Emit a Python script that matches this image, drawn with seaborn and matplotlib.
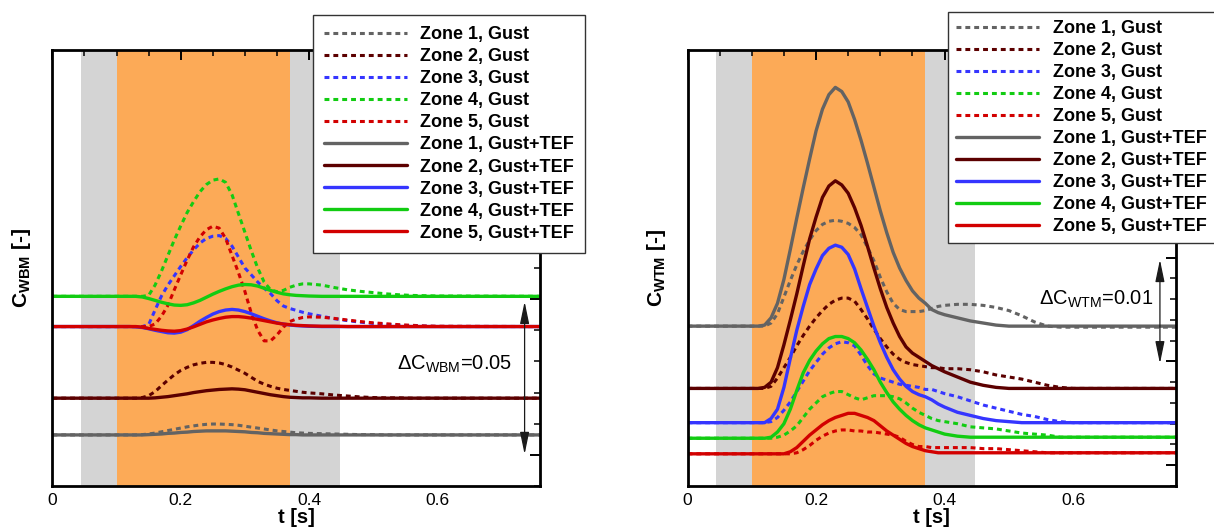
import numpy as np
import matplotlib
matplotlib.use("Agg")
import matplotlib.pyplot as plt
from matplotlib.ticker import MultipleLocator, FuncFormatter
import seaborn as sns

# ---------------- data (coefficient values in units of 1e-3) ----------------
T = [0.00,
     0.10, 0.11, 0.12, 0.13, 0.14, 0.15, 0.16, 0.17, 0.18, 0.19,
     0.20, 0.21, 0.22, 0.23, 0.24, 0.25, 0.26, 0.27, 0.28, 0.29,
     0.30, 0.31, 0.32, 0.33, 0.34, 0.35, 0.36, 0.37, 0.38, 0.39,
     0.40, 0.42, 0.44, 0.46, 0.48, 0.50, 0.52, 0.54, 0.56, 0.58, 0.60,
     0.76]

# Left panel: C_WBM
WBM_Z1_GUST = [6.4,
    6.4, 6.4, 6.4, 6.4, 6.5, 6.7, 7.0, 7.4, 7.8, 8.2,
    8.6, 9.0, 9.3, 9.6, 9.8, 9.9, 9.9, 9.8, 9.7, 9.5,
    9.2, 8.9, 8.6, 8.3, 8.0, 7.7, 7.5, 7.3, 7.1, 7.0,
    6.9, 6.8, 6.7, 6.6, 6.5, 6.5, 6.4, 6.4, 6.4, 6.4, 6.4,
    6.4]
WBM_Z2_GUST = [18.2,
    18.2, 18.2, 18.2, 18.2, 18.4, 19.0, 20.3, 22.2, 24.0, 25.7,
    27.1, 28.1, 28.9, 29.4, 29.7, 29.7, 29.5, 29.0, 28.2, 27.2,
    26.2, 24.9, 23.6, 22.7, 22.0, 21.4, 21.0, 20.7, 20.4, 20.1,
    19.9, 19.6, 19.2, 18.9, 18.6, 18.4, 18.3, 18.3, 18.2, 18.2, 18.2,
    18.2]
WBM_Z3_GUST = [41.2,
    41.2, 41.2, 41.2, 41.2, 41.2, 41.8, 46.5, 51.0, 54.5, 57.5,
    60.5, 63.3, 65.8, 68.0, 69.5, 70.2, 70.4, 69.5, 67.0, 63.5,
    60.0, 57.8, 55.5, 53.5, 51.8, 49.5, 47.8, 47.0, 46.4, 45.8,
    45.3, 44.5, 43.7, 43.1, 42.6, 42.2, 41.9, 41.6, 41.4, 41.3, 41.2,
    41.2]
WBM_Z4_GUST = [50.9,
    50.9, 50.9, 50.9, 50.9, 50.9, 51.2, 54.5, 59.0, 64.0, 69.0,
    73.5, 77.8, 81.3, 84.5, 86.8, 88.2, 88.6, 87.5, 83.5, 77.5,
    71.5, 65.5, 60.0, 55.5, 53.0, 52.4, 52.8, 53.8, 54.5, 54.9,
    54.9, 54.5, 53.7, 53.0, 52.5, 52.1, 51.7, 51.4, 51.2, 51.1, 51.0,
    50.9]
WBM_Z5_GUST = [41.2,
    41.2, 41.2, 41.2, 41.2, 41.2, 41.2, 42.0, 44.5, 48.0, 53.0,
    57.8, 62.5, 66.8, 70.0, 72.3, 73.4, 72.8, 69.5, 64.0, 58.5,
    52.5, 45.5, 40.0, 36.6, 36.6, 38.5, 41.0, 42.8, 43.6, 44.1,
    44.3, 44.2, 43.8, 43.3, 42.8, 42.4, 42.1, 41.8, 41.6, 41.4, 41.3,
    41.2]
WBM_Z1_TEF = [6.4,
    6.4, 6.4, 6.4, 6.4, 6.4, 6.5, 6.6, 6.7, 6.9, 7.0,
    7.2, 7.3, 7.5, 7.6, 7.7, 7.7, 7.7, 7.7, 7.6, 7.5,
    7.4, 7.2, 7.1, 6.9, 6.8, 6.7, 6.6, 6.5, 6.5, 6.4,
    6.4, 6.4, 6.4, 6.4, 6.4, 6.4, 6.4, 6.4, 6.4, 6.4, 6.4,
    6.4]
WBM_Z2_TEF = [18.2,
    18.2, 18.2, 18.2, 18.2, 18.2, 18.2, 18.3, 18.5, 18.7, 19.0,
    19.3, 19.6, 20.0, 20.3, 20.6, 20.8, 21.0, 21.1, 21.2, 21.1,
    20.9, 20.5, 20.1, 19.7, 19.3, 19.0, 18.7, 18.5, 18.4, 18.3,
    18.3, 18.2, 18.2, 18.2, 18.2, 18.2, 18.2, 18.2, 18.2, 18.2, 18.2,
    18.2]
WBM_Z3_TEF = [41.2,
    41.2, 41.2, 41.2, 41.1, 40.9, 40.5, 40.0, 39.6, 39.2, 39.1,
    39.4, 40.2, 41.5, 42.9, 44.1, 45.2, 46.0, 46.5, 46.7, 46.5,
    46.0, 45.3, 44.5, 43.7, 43.0, 42.4, 42.0, 41.7, 41.5, 41.4,
    41.3, 41.2, 41.2, 41.2, 41.2, 41.2, 41.2, 41.2, 41.2, 41.2, 41.2,
    41.2]
WBM_Z4_TEF = [50.9,
    50.9, 50.9, 50.9, 50.9, 50.7, 50.2, 49.6, 49.0, 48.5, 48.1,
    48.0, 48.2, 48.8, 49.6, 50.6, 51.6, 52.5, 53.3, 54.0, 54.5,
    54.7, 54.6, 54.2, 53.5, 52.8, 52.2, 51.7, 51.4, 51.2, 51.1,
    51.0, 50.9, 50.9, 50.9, 50.9, 50.9, 50.9, 50.9, 50.9, 50.9, 50.9,
    50.9]
WBM_Z5_TEF = [41.2,
    41.2, 41.2, 41.2, 41.2, 41.0, 40.6, 40.3, 40.0, 39.8, 39.7,
    39.9, 40.4, 41.1, 41.9, 42.7, 43.3, 43.8, 44.2, 44.4, 44.4,
    44.2, 43.9, 43.5, 43.1, 42.7, 42.3, 42.0, 41.8, 41.6, 41.5,
    41.4, 41.3, 41.3, 41.2, 41.2, 41.2, 41.2, 41.2, 41.2, 41.2, 41.2,
    41.2]

# Right panel: C_WTM
WTM_Z1_GUST = [13.4,
    13.4, 13.4, 13.4, 13.7, 14.6, 16.2, 17.8, 19.3, 20.6, 21.7,
    22.6, 23.2, 23.5, 23.6, 23.5, 23.3, 22.9, 22.2, 21.0, 19.7,
    18.1, 16.7, 15.6, 15.0, 14.8, 14.8, 14.8, 14.9, 15.1, 15.3,
    15.4, 15.5, 15.5, 15.4, 15.2, 14.9, 14.4, 13.8, 13.4, 13.3, 13.3,
    13.3]
WTM_Z2_GUST = [7.4,
    7.4, 7.4, 7.4, 7.6, 8.4, 9.4, 10.4, 11.5, 12.5, 13.4,
    14.2, 14.9, 15.5, 15.9, 16.1, 16.1, 15.8, 15.0, 14.1, 13.1,
    12.2, 11.4, 10.7, 10.2, 9.9, 9.7, 9.6, 9.5, 9.4, 9.4,
    9.3, 9.3, 9.2, 9.0, 8.7, 8.5, 8.3, 8.0, 7.7, 7.5, 7.4,
    7.4]
WTM_Z3_GUST = [4.1,
    4.1, 4.1, 4.1, 4.2, 4.6, 5.3, 6.1, 7.1, 8.1, 9.1,
    9.9, 10.7, 11.3, 11.7, 11.9, 11.8, 11.5, 10.6, 9.6, 8.8,
    8.4, 8.2, 8.0, 7.8, 7.7, 7.6, 7.5, 7.3, 7.3, 7.1,
    6.9, 6.6, 6.2, 5.8, 5.5, 5.2, 4.9, 4.7, 4.4, 4.2, 4.1,
    4.1]
WTM_Z4_GUST = [2.6,
    2.6, 2.6, 2.6, 2.6, 2.7, 2.9, 3.3, 3.8, 4.6, 5.4,
    6.0, 6.6, 6.9, 7.1, 7.1, 6.8, 6.5, 6.3, 6.5, 6.7,
    6.7, 6.7, 6.6, 6.4, 6.0, 5.5, 5.1, 4.8, 4.5, 4.3,
    4.2, 4.0, 3.7, 3.6, 3.5, 3.3, 3.1, 3.0, 2.9, 2.7, 2.7,
    2.7]
WTM_Z5_GUST = [1.1,
    1.1, 1.1, 1.1, 1.1, 1.1, 1.1, 1.1, 1.2, 1.5, 1.9,
    2.4, 2.8, 3.1, 3.3, 3.4, 3.4, 3.3, 3.3, 3.2, 3.2,
    3.1, 3.0, 2.9, 2.7, 2.3, 2.0, 1.8, 1.8, 1.7, 1.7,
    1.7, 1.7, 1.7, 1.6, 1.6, 1.5, 1.4, 1.3, 1.2, 1.2, 1.2,
    1.2]
WTM_Z1_TEF = [13.4,
    13.4, 13.4, 13.5, 14.2, 15.6, 17.9, 20.8, 23.8, 26.7, 29.5,
    32.2, 34.3, 35.7, 36.4, 36.0, 35.0, 33.3, 31.3, 29.1, 26.8,
    24.5, 22.4, 20.5, 19.0, 17.8, 16.8, 16.1, 15.6, 15.0, 14.7,
    14.5, 14.2, 13.9, 13.7, 13.5, 13.4, 13.4, 13.4, 13.4, 13.4, 13.4,
    13.4]
WTM_Z2_TEF = [7.4,
    7.4, 7.4, 7.5, 8.0, 9.4, 11.6, 14.0, 16.5, 19.2, 21.8,
    23.9, 25.8, 26.9, 27.4, 27.0, 26.2, 24.8, 23.1, 21.1, 19.0,
    17.0, 15.2, 13.7, 12.4, 11.4, 10.8, 10.4, 10.0, 9.6, 9.3,
    9.0, 8.5, 8.0, 7.7, 7.5, 7.4, 7.4, 7.4, 7.4, 7.4, 7.4,
    7.4]
WTM_Z3_TEF = [4.1,
    4.1, 4.1, 4.1, 4.5, 5.4, 7.5, 10.3, 13.0, 15.3, 17.4,
    18.9, 20.2, 20.9, 21.2, 21.0, 20.3, 18.9, 17.0, 15.2, 13.4,
    11.8, 10.4, 9.2, 8.3, 7.6, 7.1, 6.8, 6.6, 6.3, 5.9,
    5.6, 5.1, 4.8, 4.5, 4.3, 4.2, 4.1, 4.1, 4.1, 4.1, 4.1,
    4.1]
WTM_Z4_TEF = [2.6,
    2.6, 2.6, 2.6, 2.7, 3.2, 4.0, 5.4, 7.2, 8.9, 10.1,
    11.0, 11.7, 12.2, 12.4, 12.4, 12.2, 11.8, 11.1, 10.2, 9.2,
    8.0, 7.0, 6.1, 5.4, 4.8, 4.3, 3.9, 3.6, 3.4, 3.2,
    3.0, 2.8, 2.7, 2.7, 2.7, 2.7, 2.7, 2.7, 2.7, 2.7, 2.7,
    2.7]
WTM_Z5_TEF = [1.1,
    1.1, 1.1, 1.1, 1.1, 1.1, 1.1, 1.3, 1.7, 2.3, 2.9,
    3.4, 3.9, 4.3, 4.6, 4.8, 5.0, 5.0, 4.8, 4.6, 4.3,
    3.8, 3.3, 2.9, 2.5, 2.1, 1.8, 1.6, 1.4, 1.3, 1.2,
    1.2, 1.2, 1.2, 1.2, 1.2, 1.2, 1.2, 1.2, 1.2, 1.2, 1.2,
    1.2]

ZONES = ["Zone 1", "Zone 2", "Zone 3", "Zone 4", "Zone 5"]
CASES = ["Gust", "Gust+TEF"]
GREY_PHASES = [(0.044, 0.100), (0.370, 0.448)]
ORANGE_PHASE = (0.100, 0.370)

# ---------------- style ----------------
ZONE_COLORS = ["#636363", "#5c0000", "#3535ff", "#12cc12", "#d20000"]
DASH = (0, (1.6, 1.3))

sns.set_theme(style="white")
plt.rcParams.update({
    "axes.edgecolor": "black",
    "axes.linewidth": 2.0,
    "xtick.color": "black",
    "ytick.color": "black",
    "text.color": "black",
    "axes.labelcolor": "black",
    "mathtext.fontset": "custom",
    "mathtext.rm": "Liberation Sans",
    "mathtext.it": "Liberation Sans:italic",
    "mathtext.bf": "Liberation Sans:bold",
})
plt.rcParams["font.family"] = ["Liberation Sans", "DejaVu Sans"]

W, H = 1214, 527
fig = plt.figure(figsize=(W / 100, H / 100), dpi=100)
axL = fig.add_axes([52.4 / W, 1 - 486 / H, (540 - 52.4) / W, (486 - 50) / H])
axR = fig.add_axes([687.5 / W, 1 - 486 / H, (1176 - 687.5) / W, (486 - 50) / H])


def panel(ax, gust, tef, ylim, major, minor, sub, dval, arrow_x, arrow_y, text_xy,
          legend_xy, legend_pad):
    for a, b in GREY_PHASES:
        ax.axvspan(a, b, color="#d4d4d4", lw=0, zorder=0)
    ax.axvspan(*ORANGE_PHASE, color="#fcaa57", lw=0, zorder=0)

    for i, ys in enumerate(gust):
        sns.lineplot(x=T, y=np.asarray(ys) * 1e-3, ax=ax, color=ZONE_COLORS[i],
                     lw=2.2, linestyle=DASH, label=f"{ZONES[i]}, {CASES[0]}",
                     legend=False, zorder=3)
    for i, ys in enumerate(tef):
        sns.lineplot(x=T, y=np.asarray(ys) * 1e-3, ax=ax, color=ZONE_COLORS[i],
                     lw=2.4, linestyle="-", label=f"{ZONES[i]}, {CASES[1]}",
                     legend=False, zorder=3)

    ax.set_xlim(0, 0.76)
    ax.set_ylim(*ylim)
    ax.xaxis.set_major_locator(MultipleLocator(0.2))
    ax.xaxis.set_minor_locator(MultipleLocator(0.05))
    ax.xaxis.set_major_formatter(FuncFormatter(lambda v, p: "0" if abs(v) < 1e-9 else f"{v:.1f}"))
    ax.yaxis.set_major_locator(MultipleLocator(major))
    ax.yaxis.set_minor_locator(MultipleLocator(minor))
    ax.tick_params(which="both", direction="in", top=True, right=True,
                   labelleft=False, labelsize=12.5, pad=5)
    ax.tick_params(which="major", length=7.5, width=1.4)
    ax.tick_params(which="minor", length=4.5, width=1.1)
    for s in ax.spines.values():
        s.set_linewidth(2.0)
        s.set_zorder(5)

    ax.set_xlabel("t [s]", fontsize=14.5, fontweight="bold", labelpad=0)
    ax.set_ylabel(r"C$_{\mathbf{" + sub + r"}}$ [-]", fontsize=15, fontweight="bold", labelpad=14)

    ax.annotate("", xy=(arrow_x, arrow_y[1]), xytext=(arrow_x, arrow_y[0]),
                arrowprops=dict(arrowstyle="<|-|>,head_length=1.35,head_width=0.28",
                                color="#1a1a1a", lw=0.9, shrinkA=0, shrinkB=0,
                                mutation_scale=10), zorder=4)
    ax.text(text_xy[0], text_xy[1], "\u0394C$_{\\mathrm{" + sub + "}}$=" + dval,
            ha="right", va="baseline", fontsize=14.5, zorder=4)

    lines = [l for l in ax.get_lines() if l.get_label().startswith("Zone")]
    leg = fig.legend(lines, [l.get_label() for l in lines], loc="upper left",
                     bbox_to_anchor=(legend_xy[0] / W, 1 - legend_xy[1] / H),
                     bbox_transform=fig.transFigure, frameon=True, fancybox=False,
                     framealpha=1, edgecolor="#333333",
                     prop=dict(weight="bold", size=13), handlelength=4.6,
                     handletextpad=0.75, labelspacing=0.28, borderpad=legend_pad,
                     borderaxespad=0)
    leg.get_frame().set_linewidth(1.0)


panel(axL,
      [WBM_Z1_GUST, WBM_Z2_GUST, WBM_Z3_GUST, WBM_Z4_GUST, WBM_Z5_GUST],
      [WBM_Z1_TEF, WBM_Z2_TEF, WBM_Z3_TEF, WBM_Z4_TEF, WBM_Z5_TEF],
      ylim=(-0.01, 0.13), major=0.05, minor=0.01, sub="WBM", dval="0.05",
      arrow_x=0.736, arrow_y=(0.0002, 0.0492), text_xy=(0.716, 0.0272),
      legend_xy=(312.7, 15), legend_pad=0.62)

panel(axR,
      [WTM_Z1_GUST, WTM_Z2_GUST, WTM_Z3_GUST, WTM_Z4_GUST, WTM_Z5_GUST],
      [WTM_Z1_TEF, WTM_Z2_TEF, WTM_Z3_TEF, WTM_Z4_TEF, WTM_Z5_TEF],
      ylim=(-0.002, 0.040), major=0.01, minor=0.002, sub="WTM", dval="0.01",
      arrow_x=0.735, arrow_y=(0.0098, 0.0198), text_xy=(0.724, 0.0155),
      legend_xy=(948.3, 11.7), legend_pad=0.45)

fig.savefig("out.png", dpi=100)
